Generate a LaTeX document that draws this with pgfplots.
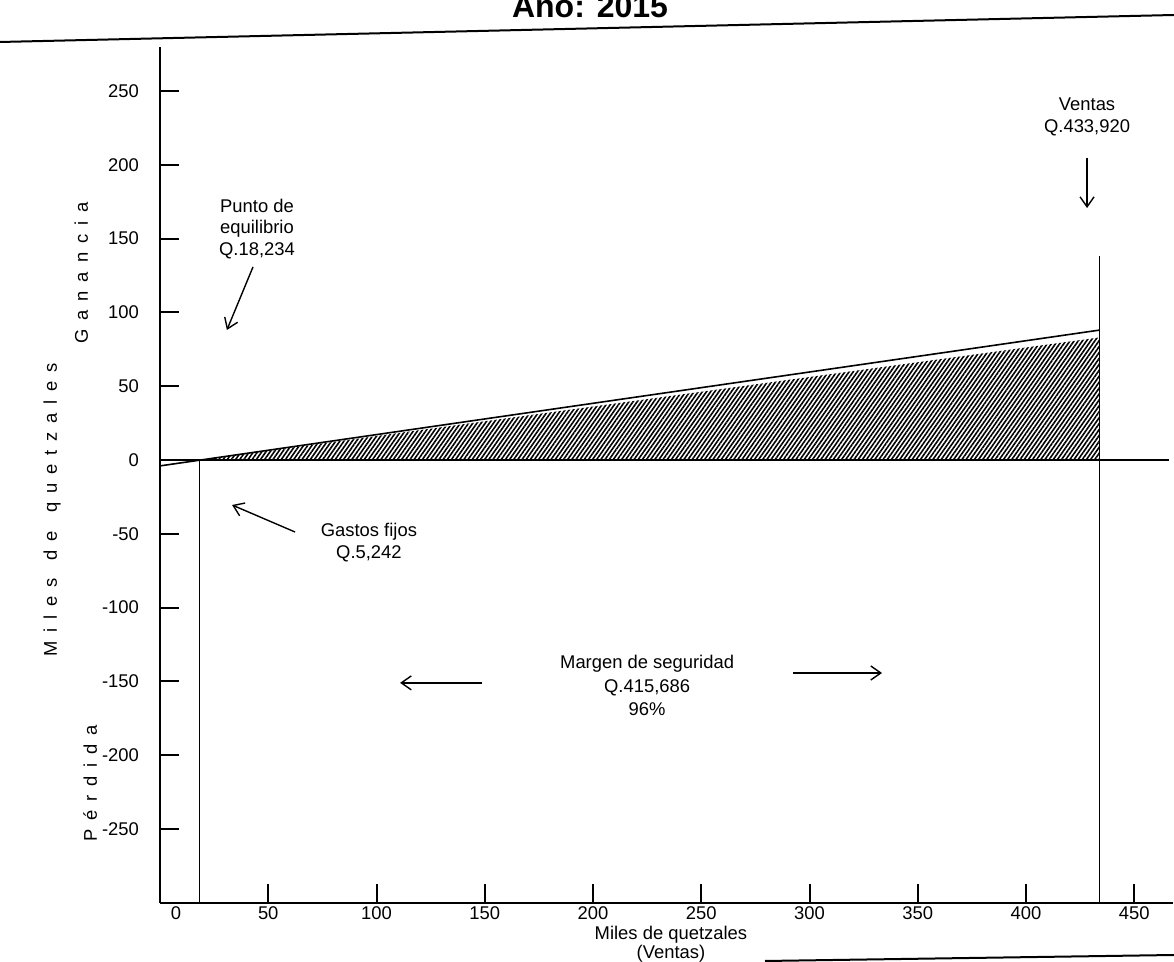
\documentclass[border=0pt]{standalone}
\usepackage{fontspec}
\setmainfont{Liberation Sans}
\usepackage{pgfplots}
\pgfplotsset{compat=1.18}
\usetikzlibrary{arrows.meta,patterns.meta}

% letter spacing for the rotated y labels
\newcommand{\ls}{\hspace{0.48em}}
\newcommand{\ws}{\hspace{1em}}

\begin{document}
\begin{tikzpicture}[
  txt/.style={font=\fontsize{9.2}{10.8}\selectfont, align=center, inner sep=0pt},
  flecha/.style={line width=0.7pt, -{Straight Barb[length=5pt,width=7pt]}}
]
\useasboundingbox (-80pt,-251pt) rectangle (507pt,230pt);
\clip (-80pt,-251pt) rectangle (507pt,230pt);

\begin{axis}[
  anchor=origin, at={(0pt,0pt)},
  x=1.0825pt, y=0.738pt,
  xmin=0, xmax=468, ymin=-300, ymax=280,
  axis x line=bottom, axis y line=left,
  axis line style={-, line width=1pt},
  tick align=inside,
  major tick length=9.5pt,
  tick style={line width=1pt, black},
  xtick={50,100,...,450},
  ytick={-250,-200,...,250},
  extra x ticks={7.4}, extra x tick labels={0},
  extra x tick style={major tick length=0pt},
  tick label style={font=\fontsize{9.2}{11}\selectfont},
  /pgf/number format/assume math mode=true,
  yticklabel style={xshift=-7pt},
  xticklabel style={yshift=1.5pt},
  clip=false,
]
% area de ganancia
\addplot[draw=none, pattern={Lines[angle=55,distance=1.7pt,line width=0.8pt]}]
  coordinates {(18.9,0) (433.92,83) (433.92,0)};
% linea de cero
\addplot[line width=1.3pt] coordinates {(0,0) (466,0)};
% linea de ganancia
\addplot[line width=0.8pt] coordinates {(0,-4) (433.92,88)};
% punto de equilibrio y ventas
\addplot[line width=0.8pt] coordinates {(18.234,0) (18.234,-300)};
\addplot[line width=0.8pt] coordinates {(433.92,138) (433.92,-300)};

\node[txt] at (axis cs:44.8,156.5) {Punto de\\equilibrio\\Q.18,234};
\draw[flecha] (axis cs:42.96,130.8) -- (axis cs:30.9,88.1);
\node[txt] at (axis cs:96.5,-56) {Gastos fijos\\Q.5,242};
\draw[flecha] (axis cs:62.4,-48.8) -- (axis cs:33.3,-30.5);
\node[txt] at (axis cs:428.2,232.4) {Ventas\\Q.433,920};
\draw[flecha] (axis cs:428.2,204.6) -- (axis cs:428.2,170.7);
\node[txt, font=\fontsize{9.2}{11.7}\selectfont] at (axis cs:225,-153)
  {Margen de seguridad\\Q.415,686\\96\%};
\draw[flecha] (axis cs:148.7,-151) -- (axis cs:110.9,-151);
\draw[flecha] (axis cs:292.4,-144.3) -- (axis cs:333.5,-144.3);

\node[txt, anchor=base] at (axis cs:236,-325.2) {Miles de quetzales};
\node[txt, anchor=base] at (axis cs:236,-337.8) {(Ventas)};
\end{axis}

\node[anchor=base, font=\fontsize{16}{19}\selectfont\bfseries] at (215pt,221pt) {Año: 2015};
\draw[line width=1pt] (-80pt,209pt) -- (507pt,222.5pt);
\draw[line width=1pt] (302.5pt,-250.5pt) -- (507pt,-247.5pt);

\node[rotate=90, anchor=base, font=\fontsize{9.2}{11}\selectfont] at (-36pt,93.5pt)
  {G\ls a\ls n\ls a\ls n\ls c\ls i\ls a};
\node[rotate=90, anchor=base, font=\fontsize{9.2}{11}\selectfont] at (-51.5pt,-25pt)
  {M\ls i\ls l\ls e\ls s\ws d\ls e\ws q\ls u\ls e\ls t\ls z\ls a\ls l\ls e\ls s};
\node[rotate=90, anchor=base, font=\fontsize{9.2}{11}\selectfont] at (-31.5pt,-161.5pt)
  {P\ls é\ls r\ls d\ls i\ls d\ls a};
\end{tikzpicture}
\end{document}
